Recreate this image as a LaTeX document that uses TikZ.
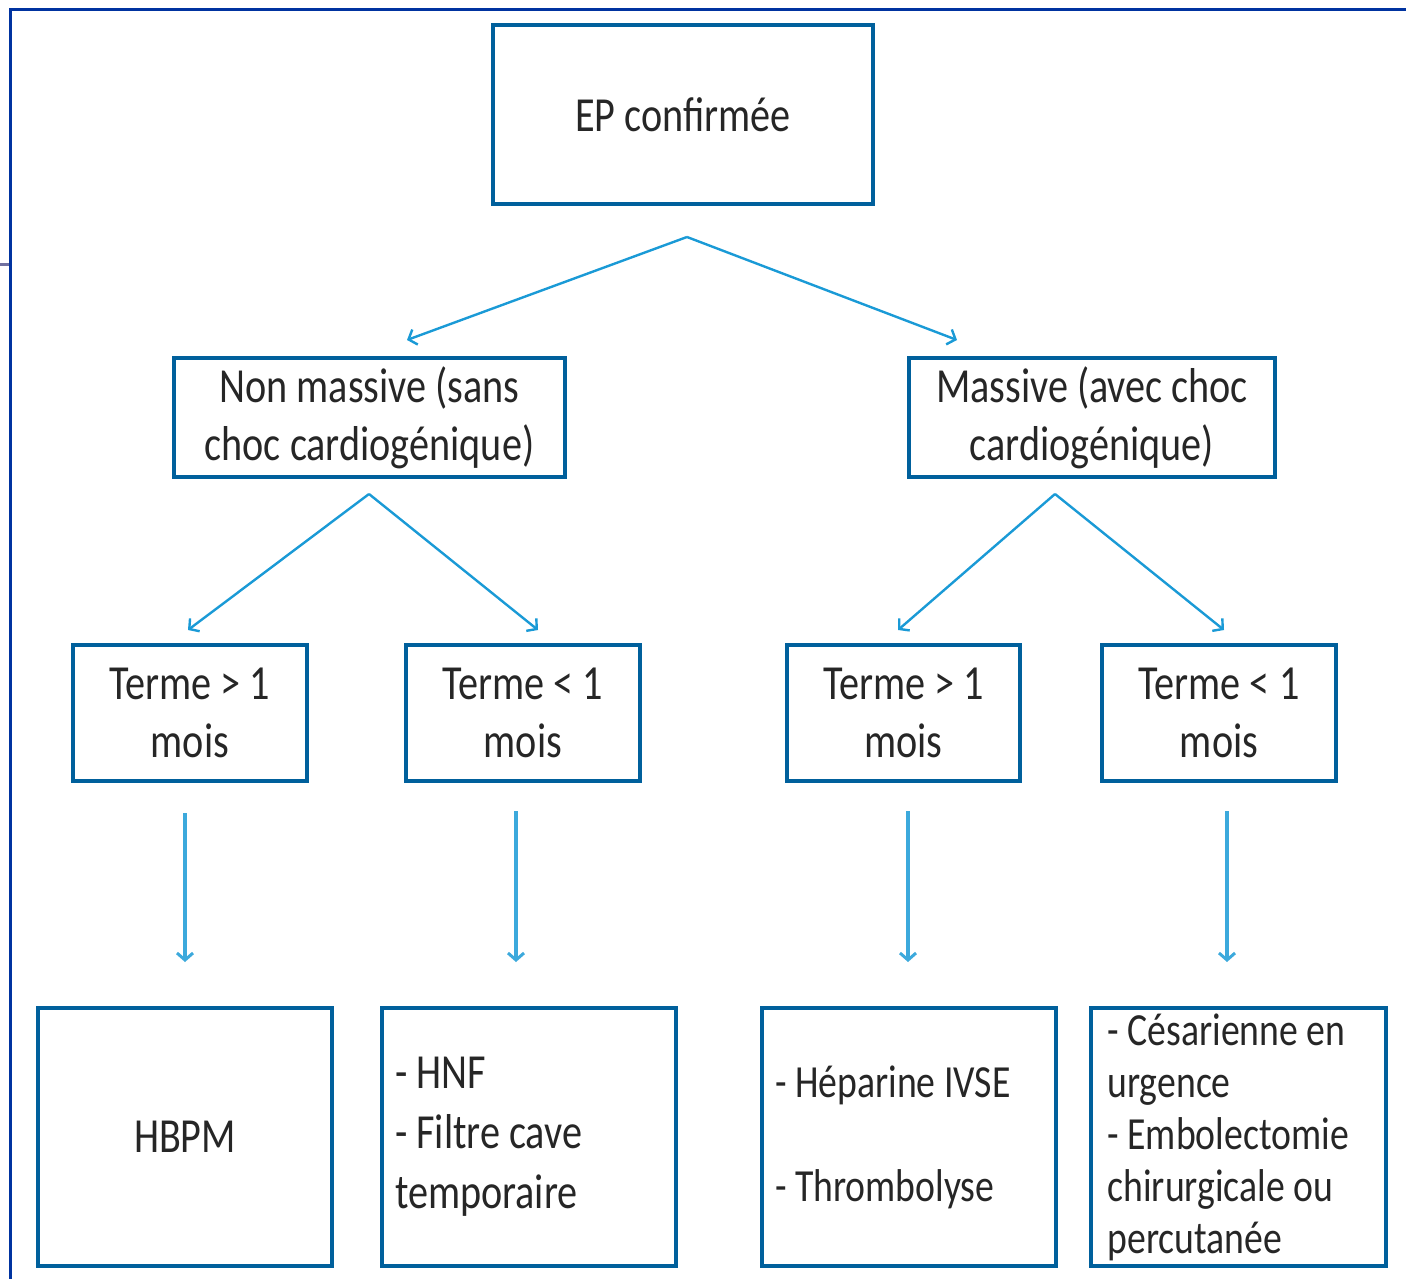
\documentclass[tikz,border=0pt]{standalone}
\usepackage{fontspec}
\setmainfont[FakeStretch=0.82]{Carlito}
\usetikzlibrary{arrows.meta}
\definecolor{boxblue}{RGB}{0,96,156}
\definecolor{arrblue}{RGB}{26,154,214}
\definecolor{frameblue}{RGB}{0,51,160}
\definecolor{tickcol}{RGB}{112,112,160}
\tikzset{
  box/.style={draw=boxblue, line width=3.5pt, inner sep=0pt, font=\fontsize{49}{58}\selectfont, text=black!85},
  diagarr/.style={draw=arrblue, line width=2.4pt, -{Straight Barb[length=7pt,width=16pt,line width=2.4pt]}},
  vertarr/.style={draw=arrblue!85, line width=3.6pt, -{Straight Barb[length=7pt,width=16pt,line width=3pt]}},
}
\begin{document}
\begin{tikzpicture}[x=1pt,y=-1pt]
\useasboundingbox (0,0) rectangle (1406,1279);
% outer frame
\draw[frameblue, line width=3pt] (1406,10) -- (10,10) -- (10,1279);
\draw[tickcol, line width=2.5pt] (0,264.5) -- (8.5,264.5);
% level 0
\node[box, minimum width=380, minimum height=179, align=center] (ep) at (683,114.5) {EP confirmée};
% level 1
\node[box, minimum width=391, minimum height=119, align=center] (nm) at (369.5,417.5) {Non massive (sans\\choc cardiogénique)};
\node[box, minimum width=366, minimum height=119, align=center] (ma) at (1092,417.5) {Massive (avec choc\\cardiogénique)};
% level 2
\node[box, minimum width=234, minimum height=136, align=center] (t1) at (190,713) {Terme > 1\\mois};
\node[box, minimum width=234, minimum height=136, align=center] (t2) at (523,713) {Terme < 1\\mois};
\node[box, minimum width=233, minimum height=136, align=center] (t3) at (903.5,713) {Terme > 1\\mois};
\node[box, minimum width=234, minimum height=136, align=center] (t4) at (1219,713) {Terme < 1\\mois};
% level 3
\node[box, minimum width=294, minimum height=258, align=center] (b1) at (185,1137) {HBPM};
\node[box, minimum width=294, minimum height=258, text width=268, align=flush left, font=\fontsize{49}{60}\selectfont] (b2) at (529,1137) {- HNF\\- Filtre cave\\temporaire};
\node[box, minimum width=294, minimum height=258, text width=268, align=flush left, font=\fontsize{46}{52}\selectfont] (b3) at (909,1137) {- Héparine IVSE\\[52pt]- Thrombolyse};
\node[box, minimum width=295, minimum height=258, text width=262, align=flush left, font=\fontsize{46}{52}\selectfont] (b4) at (1238.5,1137) {- Césarienne en\\urgence\\- Embolectomie\\chirurgicale ou\\percutanée};
% connector points
\coordinate (p0) at (687,237);
\coordinate (e0l) at (407,340);
\coordinate (e0r) at (957,340);
\coordinate (p1) at (369,494);
\coordinate (e1l) at (188,630);
\coordinate (e1r) at (538,630);
\coordinate (p2) at (1055,494);
\coordinate (e2l) at (898,630);
\coordinate (e2r) at (1224,630);
\coordinate (v1a) at (185,813);
\coordinate (v1b) at (185,962);
\coordinate (v2a) at (516,811);
\coordinate (v2b) at (516,962);
\coordinate (v3a) at (908,811);
\coordinate (v3b) at (908,962);
\coordinate (v4a) at (1227,811);
\coordinate (v4b) at (1227,962);
\draw[diagarr] (p0) -- (e0l);
\draw[diagarr] (p0) -- (e0r);
\draw[diagarr] (p1) -- (e1l);
\draw[diagarr] (p1) -- (e1r);
\draw[diagarr] (p2) -- (e2l);
\draw[diagarr] (p2) -- (e2r);
% vertical arrows
\draw[vertarr] (v1a) -- (v1b);
\draw[vertarr] (v2a) -- (v2b);
\draw[vertarr] (v3a) -- (v3b);
\draw[vertarr] (v4a) -- (v4b);
\end{tikzpicture}
\end{document}
